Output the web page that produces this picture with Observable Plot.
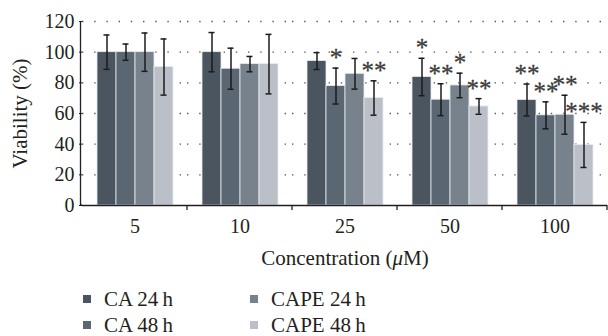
<!DOCTYPE html>
<html><head><meta charset="utf-8">
<script src="https://cdn.jsdelivr.net/npm/d3@7"></script>
<script src="https://cdn.jsdelivr.net/npm/@observablehq/plot@0.6"></script>
<style>
body{margin:0;background:#fff;font-family:"Liberation Serif",serif;color:#231f20;}
#legend{display:grid;grid-template-columns:167px 167px;grid-template-rows:26px 26px;grid-auto-flow:column;padding-left:83px;padding-top:16px;font-size:21px;line-height:22px;}
#legend .item{display:flex;align-items:center;white-space:nowrap;}
#legend .sw{width:8px;height:8px;margin-right:13px;flex:none;}
</style></head><body>
<div id="chart"></div><div id="legend"></div>
<script>
const concentrations = ["5", "10", "25", "50", "100"];
const series = ["CA 24 h", "CA 48 h", "CAPE 24 h", "CAPE 48 h"];
const colors = ["#4a555f", "#5a6672", "#77828d", "#bbc0c8"];
const yTicks = [0, 20, 40, 60, 80, 100, 120];

const ca24Mean = [100, 100, 94.2, 83.8, 68.8];
const ca24Sd = [11.2, 12.8, 5.5, 12.2, 10.4];
const ca24Sig = ["", "", "", "*", "**"];
const ca48Mean = [100, 89.2, 77.9, 69, 58.8];
const ca48Sd = [5.3, 13.4, 11.7, 10.4, 8.8];
const ca48Sig = ["", "", "*", "**", "**"];
const cape24Mean = [100, 92.2, 85.9, 78.3, 59.2];
const cape24Sd = [12.5, 5, 10, 8, 12.7];
const cape24Sig = ["", "", "", "*", "**"];
const cape48Mean = [90.3, 92.2, 70.1, 64.6, 39.5];
const cape48Sd = [18.3, 19.4, 11.2, 5.1, 14.7];
const cape48Sig = ["", "", "**", "**", "***"];

const means = [ca24Mean, ca48Mean, cape24Mean, cape48Mean];
const sds = [ca24Sd, ca48Sd, cape24Sd, cape48Sd];
const sigs = [ca24Sig, ca48Sig, cape24Sig, cape48Sig];

const rows = [];
series.forEach((s, i) => concentrations.forEach((c, j) =>
  rows.push({conc: c, series: s, mean: means[i][j], sd: sds[i][j], sig: sigs[i][j]})));

const ink = "#231f20";
const plot = Plot.plot({
  width: 608, height: 270,
  marginLeft: 81, marginRight: 1, marginTop: 21, marginBottom: 65,
  style: {fontFamily: "'Liberation Serif', serif", fontSize: "20px", color: ink, background: "#fff", overflow: "visible"},
  fx: {domain: concentrations, padding: 0},
  x: {domain: series, paddingInner: 0, paddingOuter: 0.74, axis: null},
  y: {domain: [0, 120]},
  color: {domain: series, range: colors},
  marks: [
    Plot.gridY(yTicks.filter(d => d > 0), {stroke: "#555", strokeOpacity: 1, strokeWidth: 1.4, strokeDasharray: "1.4,10.8"}),
    Plot.barY(rows, {fx: "conc", x: "series", y: "mean", fill: "series", stroke: "#e9ecef", strokeWidth: 0.8}),
    Plot.ruleX(rows, {fx: "conc", x: "series", y1: d => d.mean - d.sd, y2: d => d.mean + d.sd, stroke: "#1b1b1b", strokeWidth: 1.5}),
    Plot.tickY(rows, {fx: "conc", x: "series", y: d => d.mean - d.sd, stroke: "#1b1b1b", strokeWidth: 1.5, insetLeft: 6.5, insetRight: 6.5}),
    Plot.tickY(rows, {fx: "conc", x: "series", y: d => d.mean + d.sd, stroke: "#1b1b1b", strokeWidth: 1.5, insetLeft: 6.5, insetRight: 6.5}),
    Plot.text(rows.filter(d => d.sig), {fx: "conc", x: "series", y: d => d.mean + d.sd,
      text: "sig", dy: -10, fontSize: 25, fill: "#3a3a3a", stroke: "#3a3a3a", strokeWidth: 0.3}),
    Plot.ruleY([0], {stroke: ink, strokeWidth: 1.3}),
    Plot.axisY(yTicks, {tickSize: 3, tickPadding: 5, label: "Viability (%)", labelAnchor: "center", labelOffset: 70, labelArrow: "none"}),
    Plot.axisFx({anchor: "bottom", tickSize: 0, tickPadding: 13, label: "Concentration (μM)", labelAnchor: "center", labelOffset: 59, labelArrow: "none"})
  ]
});

const svg = d3.select(plot.tagName.toLowerCase() === "svg" ? plot : plot.querySelector("svg"));
const fx = plot.scale("fx");
const y = plot.scale("y");
const y0 = y.apply(0);
fx.domain.forEach(d => {
  const x = fx.apply(d) + fx.bandwidth;
  svg.append("line").attr("x1", x).attr("x2", x).attr("y1", y0).attr("y2", y0 + 5)
    .attr("stroke", ink).attr("stroke-width", 1.3);
});
const xl = 80.5;
svg.append("line").attr("x1", xl).attr("x2", xl).attr("y1", y.apply(120)).attr("y2", y0)
  .attr("stroke", ink).attr("stroke-width", 1.3);
svg.append("line").attr("x1", xl).attr("x2", fx.apply(concentrations[0])).attr("y1", y0).attr("y2", y0)
  .attr("stroke", ink).attr("stroke-width", 1.3);
svg.selectAll("text").each(function() {
  const t = this.textContent;
  if (t.includes("Concentration")) {
    d3.select(this).html('Concentration (<tspan font-style="italic">μ</tspan>M)').attr("font-size", 21);
  } else if (t.includes("Viability")) {
    d3.select(this).text("Viability (%)").attr("font-size", 21);
  }
});
document.getElementById("chart").appendChild(plot);

const legend = d3.select("#legend");
series.forEach((s, i) => {
  const it = legend.append("div").attr("class", "item");
  it.append("span").attr("class", "sw").style("background", colors[i]);
  it.append("span").text(s.replace(" h", "\u2009h"));
});
</script></body></html>
